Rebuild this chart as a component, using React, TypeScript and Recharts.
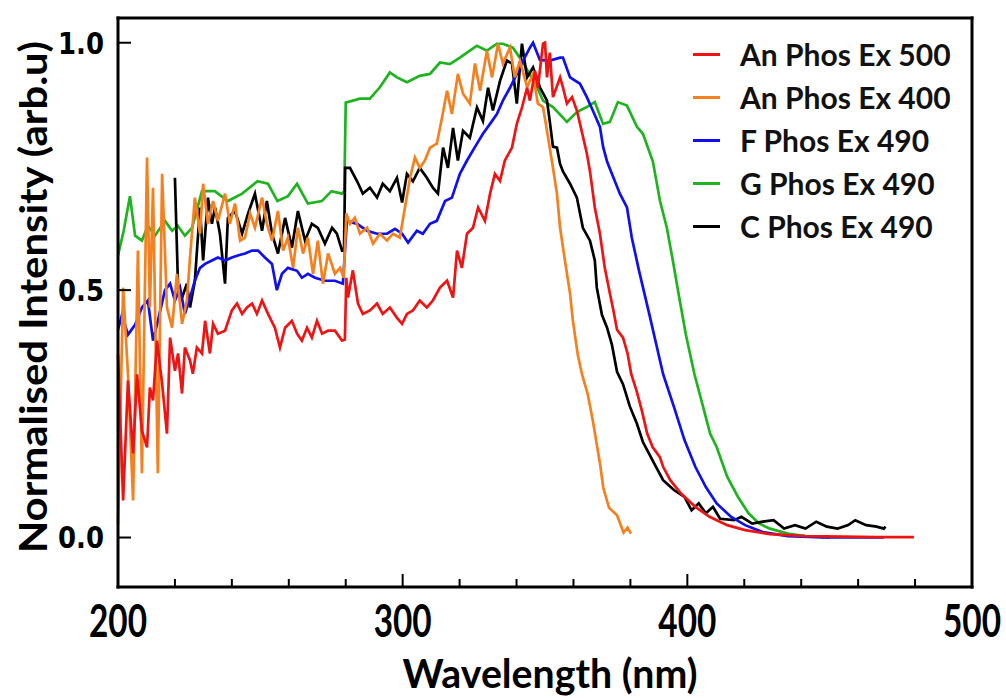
import { LineChart, Line, XAxis, YAxis, Legend, Label } from "recharts";

// An Phos Ex 500 (red)
const redWl = [200, 201.8, 203.5, 205.3, 206.7, 208.4, 210.2, 211.2, 212.3, 213.7, 215.5, 217.2, 218.3, 220, 221.1, 222.5, 223.5, 225.3, 226.3, 227.7, 229.5, 230.6, 232.3, 233.4, 235.1, 237.6, 240, 241.8, 243.6, 245.3, 247.1, 248.8, 250.6, 252.7, 255.1, 256.9, 258.7, 261.1, 262.9, 264.6, 266.4, 268.1, 269.9, 271.7, 273.8, 276.2, 278.7, 279.7, 280.2, 280.8, 282.5, 284.3, 286, 288.5, 291, 293, 295.5, 298, 299.8, 301.5, 303.6, 306, 308.5, 310.6, 313.1, 315.6, 317.7, 319.1, 320.8, 322.6, 324.7, 326.5, 328.9, 330.7, 332.4, 334.2, 335.9, 338.4, 340.1, 341.9, 343.7, 344.7, 346.5, 347.5, 349.3, 350, 350.7, 351.7, 352.8, 355.3, 356.3, 357.7, 359.5, 361.2, 362.3, 364.7, 365.8, 367.5, 369.3, 371, 372.8, 374, 375.3, 377.4, 379, 380.3, 382.1, 384, 385.9, 387.8, 390.3, 391.5, 394, 397.8, 402.8, 407.8, 414, 420.3, 429, 441.5, 455, 466.5, 479.6];
const redInt = [0.37, 0.075, 0.317, 0.17, 0.33, 0.216, 0.182, 0.303, 0.277, 0.398, 0.311, 0.21, 0.404, 0.337, 0.372, 0.291, 0.384, 0.358, 0.331, 0.384, 0.372, 0.438, 0.372, 0.432, 0.412, 0.418, 0.459, 0.473, 0.452, 0.465, 0.473, 0.452, 0.479, 0.452, 0.424, 0.384, 0.424, 0.438, 0.412, 0.398, 0.424, 0.404, 0.438, 0.412, 0.418, 0.418, 0.398, 0.4, 0.525, 0.485, 0.54, 0.473, 0.452, 0.459, 0.473, 0.452, 0.465, 0.444, 0.432, 0.452, 0.459, 0.479, 0.465, 0.479, 0.505, 0.519, 0.485, 0.58, 0.545, 0.614, 0.626, 0.667, 0.64, 0.695, 0.735, 0.721, 0.762, 0.788, 0.836, 0.869, 0.909, 0.883, 0.943, 0.909, 0.998, 1.0, 0.93, 0.98, 0.89, 0.93, 0.91, 0.877, 0.89, 0.863, 0.836, 0.776, 0.74, 0.667, 0.614, 0.545, 0.493, 0.46, 0.42, 0.404, 0.372, 0.33, 0.298, 0.257, 0.21, 0.183, 0.163, 0.143, 0.116, 0.089, 0.062, 0.042, 0.025, 0.015, 0.007, 0.003, 0.002, 0.001, 0.001];

// An Phos Ex 400 (orange)
const orangeWl = [200, 201.8, 203.5, 205.3, 207, 208.4, 210.2, 211.2, 212.3, 214, 215.5, 217.2, 219, 220.7, 222.5, 224.2, 225.3, 227, 228.8, 229.9, 231.6, 233.4, 235.1, 237.6, 239.3, 241.1, 242.9, 244.6, 246.4, 248.1, 250.6, 252.3, 254.1, 256.2, 258, 259.7, 261.5, 263.2, 265, 266.7, 268.5, 270.2, 272, 273.8, 276.2, 278, 279.3, 280.2, 281.5, 283.2, 285, 287.5, 289.6, 292, 294.5, 296.6, 299, 300.8, 302.6, 304.3, 306, 307.8, 309.6, 312, 313.8, 315.6, 317.3, 319.4, 321.2, 323.6, 325.4, 327.2, 329.6, 331.4, 333.5, 335.2, 337.7, 339.4, 341.2, 343.7, 345.8, 347.5, 349.3, 350.7, 352.4, 354.2, 355.3, 357, 358.8, 359.8, 361.5, 363, 365, 366.8, 369.3, 370.5, 372.5, 375.3, 377.6, 379, 380.2];
const orangeInt = [0.028, 0.505, 0.33, 0.075, 0.58, 0.13, 0.768, 0.465, 0.707, 0.13, 0.735, 0.465, 0.424, 0.533, 0.432, 0.479, 0.566, 0.687, 0.614, 0.715, 0.634, 0.68, 0.64, 0.695, 0.634, 0.675, 0.6, 0.606, 0.655, 0.626, 0.687, 0.634, 0.6, 0.66, 0.58, 0.606, 0.545, 0.626, 0.574, 0.606, 0.533, 0.6, 0.513, 0.574, 0.533, 0.545, 0.525, 0.655, 0.634, 0.646, 0.614, 0.626, 0.594, 0.614, 0.6, 0.614, 0.606, 0.667, 0.727, 0.768, 0.747, 0.762, 0.788, 0.796, 0.848, 0.903, 0.856, 0.937, 0.897, 0.877, 0.958, 0.903, 0.984, 0.93, 0.998, 0.958, 0.99, 0.93, 0.964, 0.91, 0.937, 0.877, 0.87, 0.822, 0.762, 0.695, 0.626, 0.56, 0.493, 0.438, 0.37, 0.33, 0.29, 0.236, 0.15, 0.1, 0.06, 0.045, 0.01, 0.02, 0.008];

// F Phos Ex 490 (blue)
const blueWl = [200, 201.4, 203.5, 206, 208.4, 210.5, 212.3, 214, 216.5, 218.3, 220, 221.8, 223.5, 225.3, 227, 228.8, 230.6, 233, 235.1, 237.6, 240, 242.1, 244.6, 247.1, 249.2, 251.6, 254.1, 255.8, 257.6, 259.7, 262.9, 264.6, 266.7, 269.2, 272.7, 276.2, 279, 280.4, 284, 287.5, 291, 294.5, 297.3, 299.8, 301.9, 305, 307.1, 309.6, 312, 314.9, 317.3, 320.1, 322.6, 326.1, 328.2, 330.7, 333.1, 335.2, 337.7, 340.1, 342.3, 344.7, 345.8, 348.2, 351.7, 355.3, 356.3, 358.8, 362.3, 364.7, 366.8, 369.3, 370.4, 371.8, 373.5, 376.3, 378.8, 380.5, 383, 386.7, 391.5, 395.3, 399, 402.8, 406.5, 410.3, 415.3, 420.3, 426.5, 435.3, 447.8, 469];
const blueInt = [0.42, 0.45, 0.41, 0.43, 0.465, 0.479, 0.398, 0.438, 0.5, 0.513, 0.479, 0.505, 0.452, 0.485, 0.519, 0.545, 0.553, 0.56, 0.566, 0.56, 0.566, 0.57, 0.574, 0.58, 0.58, 0.566, 0.553, 0.5, 0.533, 0.545, 0.539, 0.525, 0.533, 0.525, 0.519, 0.519, 0.513, 0.64, 0.634, 0.62, 0.614, 0.614, 0.624, 0.614, 0.596, 0.62, 0.614, 0.634, 0.64, 0.68, 0.687, 0.735, 0.762, 0.796, 0.816, 0.836, 0.856, 0.883, 0.909, 0.937, 0.964, 0.99, 1.0, 0.965, 0.964, 0.97, 0.97, 0.93, 0.917, 0.89, 0.863, 0.83, 0.79, 0.76, 0.735, 0.695, 0.667, 0.606, 0.54, 0.45, 0.33, 0.264, 0.197, 0.143, 0.102, 0.069, 0.042, 0.025, 0.011, 0.003, 0.0, 0.0];

// G Phos Ex 490 (green)
const greenWl = [200, 202, 204.2, 206, 208.4, 210.5, 213, 216.5, 219, 221, 223.5, 226, 229.5, 234, 238.6, 243.6, 249, 252.7, 256, 259.7, 262.9, 266.7, 271.6, 275, 278.7, 279.5, 280, 285, 288.5, 292, 295.5, 298, 301.5, 306, 309.6, 313.1, 316.6, 320.1, 323.6, 326.1, 329.6, 333.1, 335.2, 338.7, 342.3, 347.2, 349.3, 352.8, 357.7, 361.2, 364.7, 367.5, 370.4, 372.8, 375.6, 378.8, 382.3, 384.4, 387.9, 390.4, 392.8, 394.9, 397, 399.5, 402.5, 405.5, 408, 410.3, 414, 417.8, 421.5, 425.3, 429, 435.3, 441.5, 450];
const greenInt = [0.57, 0.62, 0.69, 0.61, 0.6, 0.63, 0.61, 0.64, 0.62, 0.63, 0.61, 0.626, 0.7, 0.7, 0.68, 0.695, 0.72, 0.715, 0.68, 0.69, 0.715, 0.675, 0.68, 0.7, 0.695, 0.7, 0.879, 0.887, 0.887, 0.91, 0.94, 0.93, 0.92, 0.933, 0.937, 0.96, 0.957, 0.97, 0.984, 0.994, 0.984, 0.998, 0.998, 0.99, 0.96, 0.91, 0.883, 0.87, 0.84, 0.86, 0.87, 0.88, 0.836, 0.84, 0.88, 0.873, 0.83, 0.816, 0.76, 0.68, 0.626, 0.56, 0.49, 0.41, 0.33, 0.265, 0.21, 0.183, 0.123, 0.082, 0.049, 0.028, 0.018, 0.008, 0.003, 0.0];

// C Phos Ex 490 (black)
const blackWl = [220, 221.1, 222.5, 224.2, 225.3, 227, 228.8, 229.9, 231.6, 233, 234.1, 235.8, 237.6, 238.6, 241.1, 243.6, 245.7, 248.1, 250.6, 252.3, 254.1, 256.2, 258.7, 261.1, 263.2, 265.7, 268.1, 270.2, 272.7, 275.2, 276.9, 278.7, 279.4, 279.8, 281.5, 284, 286, 288.5, 291, 293, 295.5, 298, 299.8, 301.5, 303.6, 306, 308.5, 310.6, 312.4, 314.2, 315.9, 317.7, 319.4, 321.2, 323.6, 326.1, 328.2, 330, 331.7, 334.2, 336.6, 338.4, 340.1, 341.9, 343.7, 345.8, 348.2, 350.7, 351.7, 352.8, 354.2, 355.3, 356.3, 358.8, 361.2, 363.3, 365.8, 367.5, 368.2, 370, 371.8, 373.5, 375.3, 377.4, 379.8, 382.3, 384.4, 386.5, 389, 391.5, 395.3, 399, 401.5, 404, 406.5, 409, 411.5, 416.5, 419, 422.8, 426.5, 430.3, 434, 437.8, 441.5, 445.3, 449, 452.8, 456.5, 459, 462.8, 466.5, 469, 469.6];
const blackInt = [0.727, 0.505, 0.485, 0.513, 0.465, 0.519, 0.667, 0.56, 0.687, 0.634, 0.667, 0.614, 0.513, 0.646, 0.66, 0.614, 0.655, 0.695, 0.62, 0.68, 0.614, 0.574, 0.646, 0.586, 0.66, 0.6, 0.634, 0.626, 0.594, 0.626, 0.614, 0.58, 0.58, 0.747, 0.747, 0.72, 0.695, 0.707, 0.687, 0.715, 0.7, 0.727, 0.677, 0.735, 0.72, 0.747, 0.727, 0.707, 0.695, 0.788, 0.747, 0.828, 0.762, 0.822, 0.808, 0.869, 0.842, 0.909, 0.863, 0.923, 0.964, 0.958, 0.877, 0.998, 0.93, 0.95, 0.91, 0.883, 0.84, 0.79, 0.788, 0.755, 0.74, 0.715, 0.687, 0.626, 0.6, 0.56, 0.505, 0.45, 0.424, 0.39, 0.335, 0.31, 0.265, 0.23, 0.193, 0.17, 0.143, 0.116, 0.096, 0.082, 0.055, 0.069, 0.049, 0.062, 0.038, 0.035, 0.042, 0.028, 0.032, 0.035, 0.018, 0.025, 0.018, 0.032, 0.022, 0.018, 0.025, 0.035, 0.025, 0.022, 0.018, 0.022];

const xTicks = [200, 220, 240, 260, 280, 300, 320, 340, 360, 380, 400, 420, 440, 460, 480, 500];
const yTicks = [0, 0.5, 1.0];
const legendOrder = ["An Phos Ex 500", "An Phos Ex 400", "F Phos Ex 490", "G Phos Ex 490", "C Phos Ex 490"];

const toPoints = (wl: number[], v: number[]) => wl.map((w, i) => ({ w, v: v[i] }));

const series = [
  { name: "G Phos Ex 490", color: "#1fb41f", data: toPoints(greenWl, greenInt) },
  { name: "C Phos Ex 490", color: "#000000", data: toPoints(blackWl, blackInt) },
  { name: "F Phos Ex 490", color: "#1010ee", data: toPoints(blueWl, blueInt) },
  { name: "An Phos Ex 400", color: "#f5801f", data: toPoints(orangeWl, orangeInt) },
  { name: "An Phos Ex 500", color: "#ee1414", data: toPoints(redWl, redInt) },
];

const FONT = "Lato, 'Open Sans', sans-serif";
const frame = { stroke: "#000", strokeWidth: 3, strokeLinecap: "square" as const };

const BottomTick = ({ x, y, payload }: any) => {
  const major = payload.value % 100 === 0;
  return (
    <g>
      <line x1={x} x2={x} y1={y} y2={y - (major ? 13 : 8)} stroke="#000" strokeWidth={2} />
      {major && (
        <text
          transform={`translate(${x} ${y + 50}) scale(1 1.25)`}
          textAnchor="middle"
          textLength={58}
          lengthAdjust="spacingAndGlyphs"
          fontFamily={FONT}
          fontWeight={700}
          fontSize={36}
          fill="#000"
        >
          {payload.value}
        </text>
      )}
    </g>
  );
};

const TopTick = ({ x, y, payload }: any) => {
  const major = payload.value % 100 === 0;
  return <line x1={x} x2={x} y1={y} y2={y + (major ? 13 : 8)} stroke="#000" strokeWidth={2} />;
};

const LeftTick = ({ x, y, payload }: any) => (
  <g>
    <line x1={x} x2={x + 13} y1={y} y2={y} stroke="#000" strokeWidth={2} />
    <text x={x - 14} y={y} dy="0.36em" textAnchor="end" textLength={46} lengthAdjust="spacingAndGlyphs" fontFamily="'DejaVu Sans', sans-serif" fontWeight={700} fontSize={30} fill="#000">
      {payload.value.toFixed(1)}
    </text>
  </g>
);

const RightTick = ({ x, y }: any) => (
  <line x1={x} x2={x - 13} y1={y} y2={y} stroke="#000" strokeWidth={2} />
);

const LegendBox = ({ payload }: any) => {
  const items = legendOrder.map((n) => (payload || []).find((p: any) => p.value === n)).filter(Boolean);
  return (
    <div style={{ fontFamily: FONT, fontWeight: 700, fontSize: 30, lineHeight: "43px", color: "#111" }}>
      {items.map((p: any) => (
        <div key={p.value} style={{ display: "flex", alignItems: "center", whiteSpace: "nowrap" }}>
          <span style={{ display: "inline-block", width: 27, height: 3, background: p.color, marginRight: 20 }} />
          {p.value}
        </div>
      ))}
    </div>
  );
};

export default function App() {
  return (
    <div style={{ position: "absolute", left: 0, top: 0, background: "#fff" }}>
      <LineChart width={1006} height={698} margin={{ top: 17, right: 33, bottom: 51, left: 58 }}>
        <XAxis
          xAxisId="b"
          type="number"
          dataKey="w"
          domain={[200, 500]}
          ticks={xTicks}
          interval={0}
          height={60}
          tickSize={0}
          tickMargin={0}
          tickLine={false}
          tick={<BottomTick />}
          axisLine={frame}
        >
          <Label
            content={() => (
              <text x={550} y={688} textAnchor="middle" textLength={295} lengthAdjust="spacingAndGlyphs" fontFamily={FONT} fontWeight={700} fontSize={40} fill="#000">
                Wavelength (nm)
              </text>
            )}
          />
        </XAxis>
        <XAxis
          xAxisId="t"
          orientation="top"
          type="number"
          dataKey="w"
          domain={[200, 500]}
          ticks={xTicks}
          interval={0}
          height={1}
          tickSize={0}
          tickMargin={0}
          tickLine={false}
          tick={<TopTick />}
          axisLine={frame}
        />
        <YAxis
          yAxisId="l"
          type="number"
          domain={[-0.1, 1.05]}
          ticks={yTicks}
          interval={0}
          width={60}
          tickSize={0}
          tickMargin={0}
          tickLine={false}
          tick={<LeftTick />}
          axisLine={frame}
        >
          <Label
            content={() => (
              <text x={47} y={297} transform="rotate(-90 47 297)" textAnchor="middle" textLength={512} lengthAdjust="spacingAndGlyphs" fontFamily={FONT} fontWeight={700} fontSize={38} fill="#000">
                Normalised Intensity (arb.u)
              </text>
            )}
          />
        </YAxis>
        <YAxis
          yAxisId="r"
          orientation="right"
          type="number"
          domain={[-0.1, 1.05]}
          ticks={yTicks}
          interval={0}
          width={1}
          tickSize={0}
          tickMargin={0}
          tickLine={false}
          tick={<RightTick />}
          axisLine={frame}
        />
        <Legend
          layout="horizontal"
          align="center"
          verticalAlign="middle"
          content={<LegendBox />}
          wrapperStyle={{ top: 33, left: 693, width: 300 }}
        />
        {series.map((s) => (
          <Line
            key={s.name}
            xAxisId="b"
            yAxisId="l"
            data={s.data}
            dataKey="v"
            name={s.name}
            type="linear"
            stroke={s.color}
            strokeWidth={2.7}
            dot={false}
            activeDot={false}
            isAnimationActive={false}
          />
        ))}
      </LineChart>
    </div>
  );
}
